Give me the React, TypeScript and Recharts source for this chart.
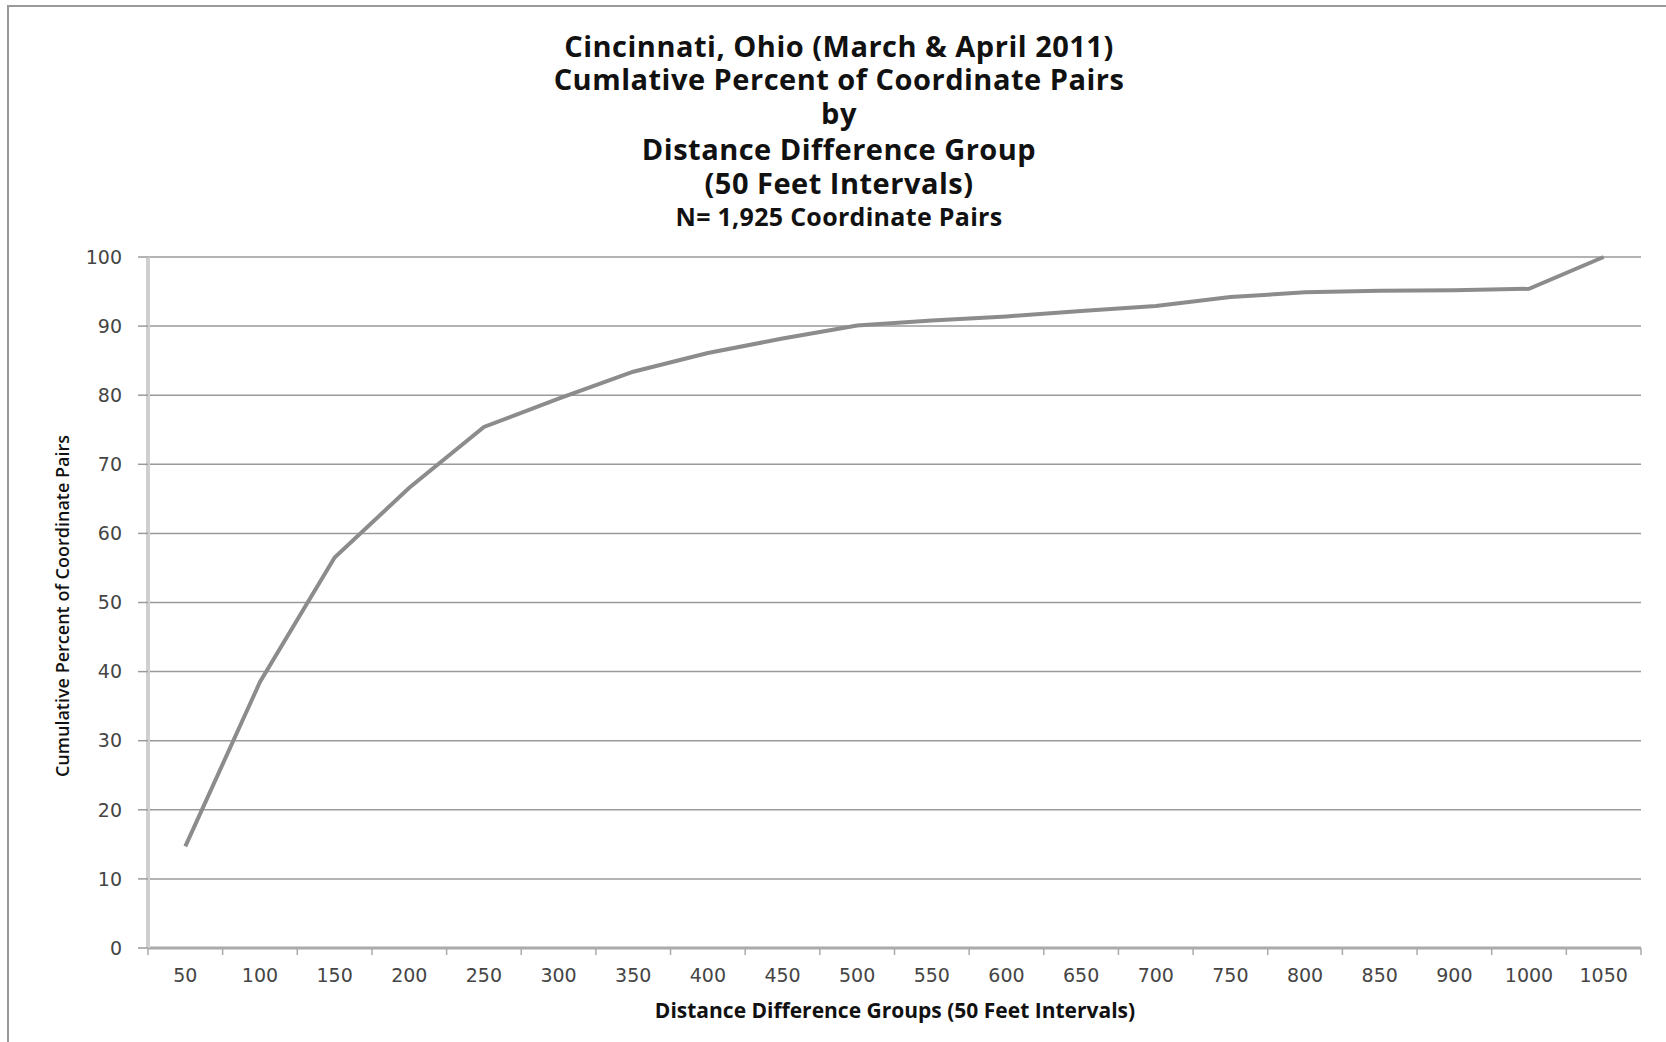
import React from 'react';
import { LineChart, Line, XAxis, YAxis, CartesianGrid } from 'recharts';

const categories = ['50', '100', '150', '200', '250', '300', '350', '400', '450', '500', '550', '600', '650', '700', '750', '800', '850', '900', '1000', '1050'];
const cumulativePercent = [14.7, 38.5, 56.5, 66.6, 75.4, 79.5, 83.4, 86.1, 88.2, 90.1, 90.8, 91.4, 92.2, 92.9, 94.2, 94.9, 95.1, 95.2, 95.4, 100];
const yTicks = [0, 10, 20, 30, 40, 50, 60, 70, 80, 90, 100];

const titleLines = [
  'Cincinnati, Ohio (March & April 2011)',
  'Cumlative Percent of Coordinate Pairs',
  'by',
  'Distance Difference Group',
  '(50 Feet Intervals)',
];
const subtitle = 'N= 1,925 Coordinate Pairs';
const xTitle = 'Distance Difference Groups (50  Feet Intervals)';
const yTitle = 'Cumulative Percent of Coordinate Pairs';

const data = categories.map((c, i) => ({ group: c, value: cumulativePercent[i] }));

const W = 1666;
const H = 1042;
const M = { top: 257, right: 25, bottom: 0, left: 0 };
const Y_AXIS_W = 148;
const X_AXIS_H = 94;
const PLOT_W = W - M.right - Y_AXIS_W;
const BAND = PLOT_W / categories.length;

const XTick = (props: any) => {
  const { x, y, payload, index } = props;
  const last = index === categories.length - 1;
  return (
    <g>
      <line x1={x - BAND / 2} x2={x - BAND / 2} y1={y} y2={y + 7} stroke="#aaa" strokeWidth={1.5} />
      {last && <line x1={x + BAND / 2} x2={x + BAND / 2} y1={y} y2={y + 7} stroke="#aaa" strokeWidth={1.5} />}
      <text x={x} y={y + 33.5} textAnchor="middle" fontFamily="DejaVu Sans" fontSize={19} fill="#454545">
        {payload.value}
      </text>
    </g>
  );
};

const titleFont = '"Open Sans", sans-serif';
const titleCenters = [45.7, 78.6, 112.6, 148.8, 182.8];

export default function App() {
  return (
    <div style={{ position: 'absolute', left: 0, top: 0, width: W, height: H, overflow: 'hidden', background: '#fff' }}>
      <div style={{ position: 'absolute', left: 7, top: 5, width: 1800, height: 1200, border: '2px solid #999', boxSizing: 'border-box' }} />
      {titleLines.map((t, i) => (
        <div key={i} style={{ position: 'absolute', left: 0, width: 1678, top: titleCenters[i] - 15, height: 30, lineHeight: '30px', textAlign: 'center', fontFamily: titleFont, fontWeight: 700, fontSize: 29, letterSpacing: 0.5, color: '#111', whiteSpace: 'nowrap' }}>{t}</div>
      ))}
      <div style={{ position: 'absolute', left: 0, width: 1678, top: 215.7 - 14, height: 28, lineHeight: '28px', textAlign: 'center', fontFamily: titleFont, fontWeight: 700, fontSize: 25, letterSpacing: 0.3, color: '#111', whiteSpace: 'nowrap' }}>{subtitle}</div>
      <div style={{ position: 'absolute', left: 62, top: 606, transform: 'translate(-50%, -50%) rotate(-90deg)', fontFamily: titleFont, fontWeight: 600, fontSize: 18, color: '#111', whiteSpace: 'nowrap', lineHeight: '24px' }}>{yTitle}</div>
      <div style={{ position: 'absolute', left: 895, top: 1010, transform: 'translate(-50%, -50%)', fontFamily: titleFont, fontWeight: 700, fontSize: 21, color: '#111', whiteSpace: 'nowrap', lineHeight: '28px' }}>{xTitle}</div>
      <div style={{ position: 'absolute', left: 0, top: 0 }}>
        <LineChart width={W} height={H} data={data} margin={M}>
          <CartesianGrid horizontal vertical={false} stroke="#9a9a9a" strokeWidth={1.5} />
          <XAxis
            dataKey="group"
            scale="band"
            height={X_AXIS_H}
            interval={0}
            tickSize={0}
            tickMargin={0}
            tickLine={false}
            axisLine={{ stroke: '#aaa', strokeWidth: 3 }}
            tick={<XTick />}
          />
          <YAxis
            width={Y_AXIS_W}
            domain={[0, 100]}
            ticks={yTicks}
            interval={0}
            tickSize={10}
            tickMargin={16}
            tickLine={{ stroke: '#9a9a9a', strokeWidth: 1.5 }}
            axisLine={{ stroke: '#cfcfcf', strokeWidth: 4 }}
            tick={{ fontFamily: 'DejaVu Sans', fontSize: 19, fill: '#454545' }}
          />
          <Line type="linear" dataKey="value" stroke="#8c8c8c" strokeWidth={4} dot={false} isAnimationActive={false} />
        </LineChart>
      </div>
    </div>
  );
}
